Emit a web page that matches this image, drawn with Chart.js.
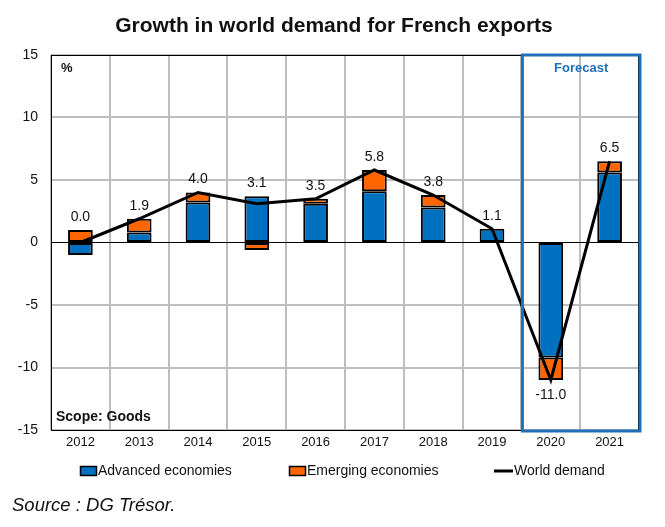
<!DOCTYPE html>
<html>
<head>
<meta charset="utf-8">
<script src="https://cdn.jsdelivr.net/npm/chart.js@4/dist/chart.umd.min.js"></script>
<style>
  html, body { margin:0; padding:0; background:#fff; }
  #wrap { position:relative; width:665px; height:527px; }
</style>
</head>
<body>
<div id="wrap"><canvas id="chart" width="665" height="527"></canvas></div>
<script>
// World demand for French exports, contributions in % pts
const years    = ['2012','2013','2014','2015','2016','2017','2018','2019','2020','2021'];
const advanced = [-1.0, 0.8, 3.2, 3.7, 3.1, 4.1, 2.8, 1.1, -9.2, 5.6];
const emerging = [1.0, 1.1, 0.8, -0.6, 0.4, 1.7, 1.0, 0.0, -1.8, 0.9];
const world    = [0.0, 1.9, 4.0, 3.1, 3.5, 5.8, 3.8, 1.1, -11.0, 6.5];
const yTicks   = [-15, -10, -5, 0, 5, 10, 15];
const forecastFrom = '2020';

const BLUE = '#0070C0', ORANGE = '#FF6600', GRID = '#BEBEBE', BOXBLUE = '#1F70B8';
const FONT = '"Liberation Sans", Arial, sans-serif';

// plot frame, forecast box, inner texts, value labels, legend, title, source
const decor = {
    id: 'decor',
    beforeDatasetsDraw(chart) {
        const {ctx, chartArea: a} = chart;
        ctx.save();
        ctx.strokeStyle = '#000'; ctx.lineWidth = 1;
        ctx.strokeRect(a.left + .5, a.top + .5, a.right - a.left - 1, a.bottom - a.top);
        ctx.restore();
    },
    afterDatasetsDraw(chart) {
        const {ctx, chartArea: a, scales:{x, y}} = chart;
        ctx.save();
        // value labels of world demand
        const line = chart.getDatasetMeta(2).data;
        const b0 = chart.getDatasetMeta(0).data, b1 = chart.getDatasetMeta(1).data;
        ctx.font = '14px ' + FONT; ctx.fillStyle = '#111'; ctx.textAlign = 'center'; ctx.textBaseline = 'middle';
        world.forEach((v, i) => {
            const px = line[i].x;
            if (v >= 0) {
                const top = Math.min(line[i].y, b0[i].y, b1[i].y);
                ctx.fillText(v.toFixed(1), px, top - 13);
            } else {
                const bot = Math.max(line[i].y, b0[i].y, b1[i].y);
                ctx.fillText(v.toFixed(1), px, bot + 15);
            }
        });
        // % and scope
        ctx.textAlign = 'left';
        ctx.font = 'bold 13px ' + FONT;
        ctx.fillText('%', a.left + 10, a.top + 13);
        ctx.font = 'bold 14px ' + FONT;
        ctx.fillText('Scope: Goods', a.left + 5, a.bottom - 13);
        // forecast box
        const i0 = years.indexOf(forecastFrom);
        const bx = x.getPixelForValue(i0) - (x.getPixelForValue(1) - x.getPixelForValue(0)) / 2;
        ctx.strokeStyle = BOXBLUE; ctx.lineWidth = 3;
        ctx.strokeRect(bx + 1, a.top, a.right - bx, a.bottom - a.top + 1);
        ctx.fillStyle = BOXBLUE; ctx.font = 'bold 13px ' + FONT; ctx.textAlign = 'center';
        ctx.fillText('Forecast', (bx + a.right) / 2 + 1, a.top + 13);
        // legend
        const ly = 471;
        ctx.font = '14px ' + FONT; ctx.textAlign = 'left'; ctx.fillStyle = '#111';
        const box = (bxx, col) => {
            ctx.fillStyle = col; ctx.fillRect(bxx, ly - 4, 16, 8);
            ctx.strokeStyle = '#000'; ctx.lineWidth = 1.5; ctx.strokeRect(bxx + .5, ly - 4.5, 16, 9);
        };
        box(80, BLUE);
        ctx.fillStyle = '#111'; ctx.fillText('Advanced economies', 98, ly);
        box(289, ORANGE);
        ctx.fillStyle = '#111'; ctx.fillText('Emerging economies', 307, ly);
        ctx.strokeStyle = '#000'; ctx.lineWidth = 3;
        ctx.beginPath(); ctx.moveTo(494, ly); ctx.lineTo(513, ly); ctx.stroke();
        ctx.fillText('World demand', 514, ly);
        // title
        ctx.font = 'bold 21px ' + FONT; ctx.textAlign = 'center';
        ctx.fillText('Growth in world demand for French exports', 334, 26);
        // source
        ctx.font = 'italic 18.5px ' + FONT; ctx.textAlign = 'left';
        ctx.fillText('Source : DG Trésor.', 12, 506);
        ctx.restore();
    }
};

new Chart(document.getElementById('chart'), {
    type: 'bar',
    data: {
        labels: years,
        datasets: [
            {label:'Advanced economies', data:advanced, backgroundColor:BLUE, borderColor:'#000', borderWidth:2, borderSkipped:false, order:2, stack:'s'},
            {label:'Emerging economies', data:emerging, backgroundColor:ORANGE, borderColor:'#000', borderWidth:2, borderSkipped:false, order:2, stack:'s'},
            {type:'line', label:'World demand', data:world, borderColor:'#000', borderWidth:3, pointRadius:0, tension:0, fill:false, order:0, stack:'line'}
        ]
    },
    options: {
        responsive: false,
        animation: false,
        layout: {padding:{top:55, right:26, bottom:0, left:0}},
        plugins: {legend:{display:false}, title:{display:false}, tooltip:{enabled:false}},
        datasets: {bar:{categoryPercentage:0.42, barPercentage:1}},
        scales: {
            x: {
                stacked: true,
                offset: true,
                grid: {offset:true, color:GRID, lineWidth:2, drawTicks:false},
                border: {display:false},
                ticks: {color:'#111', font:{family:FONT, size:13}, padding:5},
                afterFit: s => { s.height = 97; }
            },
            y: {
                stacked: true,
                min: -15, max: 15,
                afterBuildTicks: s => { s.ticks = yTicks.map(v => ({value:v})); },
                grid: {color: c => c.tick && c.tick.value === 0 ? '#000' : GRID, lineWidth: c => c.tick && c.tick.value === 0 ? 1 : 2, drawTicks:false},
                border: {display:false},
                ticks: {color:'#111', font:{family:FONT, size:14}, padding:13},
                afterFit: s => { s.width = 51; }
            }
        }
    },
    plugins: [decor]
});
</script>
</body>
</html>
